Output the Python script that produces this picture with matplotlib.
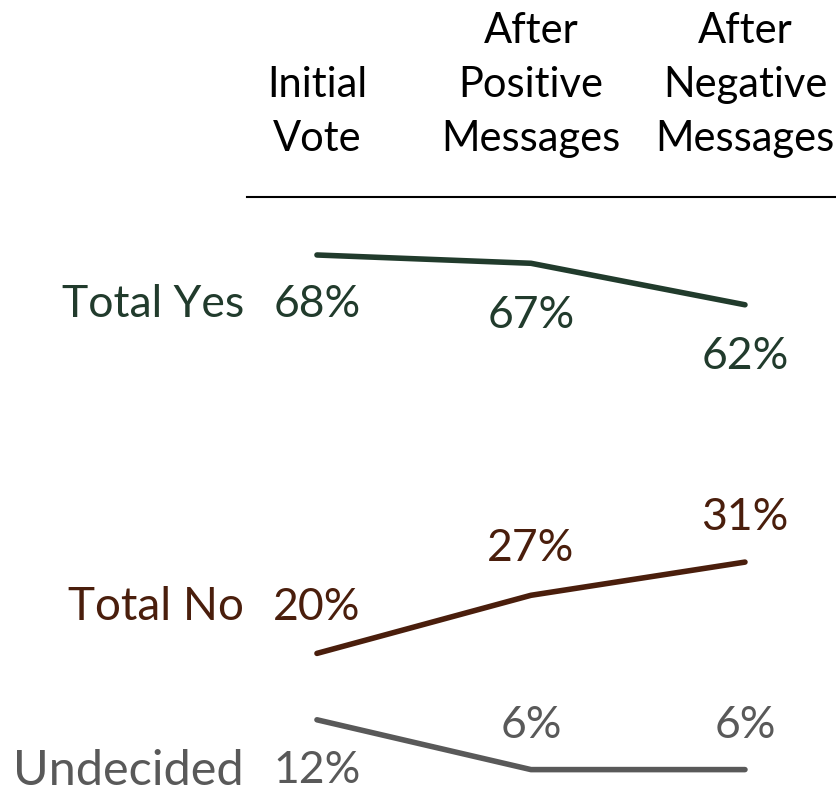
"""
	Vote shift slope chart: initial vote vs after positive / negative messages.
"""

import matplotlib
matplotlib.use("Agg")
import matplotlib.pyplot as plt
import matplotlib.transforms as mtransforms
from matplotlib.lines import Line2D

# data
stages = ["Initial\nVote", "After\nPositive\nMessages", "After\nNegative\nMessages"]
series_names = ["Total Yes", "Total No", "Undecided"]
yes_vals = [68, 67, 62]
no_vals = [20, 27, 31]
undecided_vals = [12, 6, 6]

colors = ["#213B2C", "#4A1E0C", "#595959"]
# label offset in pixels (+ below the line, - above it), per point
label_offsets = [[50, 52, 52], [-46, -47, -45], [51, -44, -44]]
name_sizes = [32, 33, 35]

plt.rcParams["font.family"] = ["Lato", "DejaVu Sans"]
FS = 32

fig = plt.figure(figsize=(8.37, 7.94), dpi=100)
ax = fig.add_axes([0, 0, 1, 1])
ax.set_xlim(-1.481, 2.43)
ax.set_ylim(3.06, 98.72)
ax.axis("off")

x = list(range(len(stages)))
all_vals = [yes_vals, no_vals, undecided_vals]
for name, vals, col, offs, ns in zip(series_names, all_vals, colors, label_offsets, name_sizes):
	ax.plot(x, vals, color=col, lw=4.0, solid_capstyle="round", solid_joinstyle="round")
	for i, v in enumerate(vals):
		ax.annotate("{}%".format(v), (x[i], v), xytext=(0, -offs[i]),
					textcoords="offset pixels", ha="center", va="center",
					fontsize=FS, color=col)
	# series name on the left
	ax.annotate(name, (x[0], vals[0]), xytext=(-73, -offs[0]),
				textcoords="offset pixels", ha="right", va="center",
				fontsize=ns, color=col)

# column headers
trans = mtransforms.blended_transform_factory(ax.transData, fig.transFigure)
for i, s in enumerate(stages):
	ax.text(x[i], 1 - 158 / 794, s, transform=trans, ha="center", va="bottom",
			fontsize=30, color="black", linespacing=1.52)

fig.add_artist(Line2D([247 / 837, 1.0], [1 - 197 / 794, 1 - 197 / 794],
					  transform=fig.transFigure, color="black", lw=1.5))

plt.savefig("out.png", dpi=100)
plt.close()
